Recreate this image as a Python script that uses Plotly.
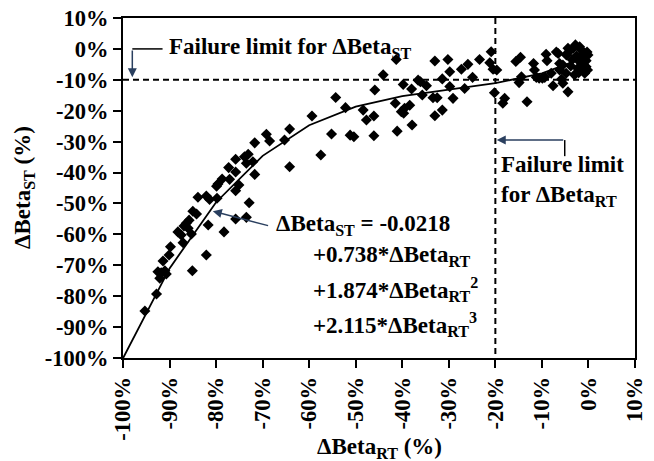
import plotly.graph_objects as go

# Measured points (percent)
x_pct = [
    -85.0, -84.2, -85.8, -86.4, -86.9, -86.0, -88.2, -87.5, -85.3, -87.1, -89.8, -90.1, -91.4,
    -92.5, -91.8, -91.0, -92.1, -90.7, -92.8, -95.3, -81.7, -78.3, -82.1, -85.1, -75.8,
    -69.2, -68.5, -71.7, -73.1, -73.9, -72.1, -73.5, -75.8, -77.3, -75.8, -71.7, -77.1, -78.7,
    -79.6, -79.9, -75.1, -75.8, -79.8, -83.9, -82.1, -81.4, -72.9, -73.5,
    -44.1, -45.9, -54.3, -52.2, -48.4, -46.1, -47.7, -59.4, -64.2, -65.3, -55.2, -51.2, -50.4,
    -46.1, -57.5, -64.2,
    -41.3, -33.0, -30.2, -39.8, -38.0, -36.6, -36.1, -34.8, -35.7, -33.4, -32.5, -31.4, -29.8,
    -41.5, -38.4, -39.5, -40.2, -39.7, -31.4, -33.0, -37.9, -41.1,
    -20.9, -21.2, -20.5, -19.7, -23.4, -25.9, -27.3, -29.8, -24.9, -26.6, -29.1, -20.2,
    -15.6, -14.6, -11.8, -11.6, -9.1, -8.9, -6.9, -6.5, -4.8, -4.4, -14.4, -14.9, -11.2, -10.6,
    -9.9, -9.4, -8.0, -7.6, -6.2, -5.8, -5.5, -4.8, -4.4, -18.0, -18.4, -13.2,
    -4.7, -4.0, -3.3, -2.8, -1.9, -1.5, -1.0, -0.7, -0.5, -1.2, -1.5, -2.3, -0.5, -0.2, -2.1,
    -3.0, -6.2, -5.5, -0.8, -0.1, -2.6, -3.5, -2.0, -0.3, -3.8, -1.8,
]
y_pct = [
    -52.5, -53.4, -55.4, -56.4, -57.3, -58.0, -59.2, -60.2, -59.9, -62.7, -64.0, -66.7, -68.6,
    -72.1, -72.4, -71.8, -74.2, -72.8, -79.3, -84.8, -57.0, -59.2, -66.7, -71.8, -55.0,
    -27.6, -29.8, -30.4, -34.1, -34.9, -36.5, -37.0, -35.7, -38.4, -39.8, -40.6, -42.2, -42.1,
    -43.7, -44.4, -44.0, -45.9, -48.3, -48.0, -47.6, -48.7, -49.8, -54.5,
    -8.4, -13.3, -15.7, -19.0, -19.8, -21.7, -23.0, -21.7, -25.9, -29.5, -27.5, -27.9, -28.4,
    -28.1, -34.3, -38.1,
    -3.4, -3.9, -3.4, -11.5, -13.0, -10.1, -10.6, -11.9, -14.9, -15.8, -15.8, -9.7, -12.2,
    -17.6, -18.2, -19.2, -20.3, -20.8, -19.8, -21.6, -24.6, -26.6,
    -0.9, -4.5, -6.6, -6.8, -3.4, -5.0, -6.6, -7.4, -9.2, -12.8, -16.0, -14.2,
    -4.1, -2.7, -4.7, -6.8, -1.7, -3.8, -1.0, -1.5, -1.8, 0.2, -9.0, -10.9, -9.2, -9.5,
    -9.5, -9.2, -7.9, -11.9, -6.8, -9.8, -11.1, -7.9, -13.9, -16.0, -17.6, -17.1,
    -2.0, -0.6, 0.2, 1.3, 0.7, -0.4, -1.2, -2.5, -3.8, -4.7, -5.8, -6.3, -5.8, -6.8, -7.7,
    -8.4, -4.7, -5.2, -7.9, -2.0, -2.3, -3.5, -4.0, -1.0, -5.5, -2.8,
]

# Fitted curve vertices (fraction)
fit_x = [-1.0, -0.9, -0.8, -0.7, -0.6, -0.5, -0.4, -0.3, -0.2, -0.1, -0.01]
fit_y = [-1.001, -0.710, -0.496, -0.346, -0.247, -0.187, -0.153, -0.132, -0.111, -0.079, -0.029]

limit_rt = [-0.20]
limit_st = [-0.10]

tick_vals = [-1.0, -0.9, -0.8, -0.7, -0.6, -0.5, -0.4, -0.3, -0.2, -0.1, 0.0, 0.1]
tick_text = ["-100%", "-90%", "-80%", "-70%", "-60%", "-50%", "-40%", "-30%", "-20%", "-10%", "0%", "10%"]

FONT = "Liberation Serif, Times New Roman, Tinos, serif"
TXT = dict(family=FONT, size=23, color="black", weight="bold")

fig = go.Figure()
fig.add_trace(go.Scatter(
    x=[v / 100 for v in x_pct], y=[v / 100 for v in y_pct], mode="markers",
    marker=dict(symbol="diamond", size=8.5, color="black"), showlegend=False))
fig.add_trace(go.Scatter(
    x=fit_x, y=fit_y, mode="lines", line=dict(color="black", width=1.8), showlegend=False))

# Failure limit lines
fig.add_shape(type="line", xref="x", yref="y", x0=-1.0, x1=0.1, y0=limit_st[0], y1=limit_st[0],
              line=dict(color="black", width=2, dash="6px,4px"))
fig.add_shape(type="line", xref="x", yref="y", x0=limit_rt[0], x1=limit_rt[0], y0=0.1, y1=-1.0,
              line=dict(color="black", width=2, dash="6px,4px"))

# leader for top annotation
fig.add_shape(type="line", xref="x", yref="y", x0=-0.98, x1=-0.915, y0=0.0, y1=0.0,
              line=dict(color="black", width=1.5))
fig.add_annotation(x=-0.98, y=-0.092, ax=-0.98, ay=0.0, axref="x", ayref="y", xref="x", yref="y",
                   text="", showarrow=True, arrowhead=2, arrowsize=1.2, arrowwidth=1.5)
fig.add_annotation(x=-0.906, y=0.003, xref="x", yref="y", xanchor="left", yanchor="middle",
                   text="Failure limit for ΔBeta<sub>ST</sub>", showarrow=False, font=TXT)

# leader for right annotation
fig.add_shape(type="line", xref="x", yref="y", x0=-0.051, x1=-0.051, y0=-0.295, y1=-0.347,
              line=dict(color="black", width=1.5))
fig.add_annotation(x=-0.197, y=-0.295, ax=-0.051, ay=-0.295, axref="x", ayref="y", xref="x", yref="y",
                   text="", showarrow=True, arrowhead=2, arrowsize=1.2, arrowwidth=1.5)
fig.add_annotation(x=-0.193, y=-0.375, xref="x", yref="y", xanchor="left", yanchor="middle",
                   text="Failure limit", showarrow=False, font=TXT)
fig.add_annotation(x=-0.193, y=-0.476, xref="x", yref="y", xanchor="left", yanchor="middle",
                   text="for ΔBeta<sub>RT</sub>", showarrow=False, font=TXT)

# equation
fig.add_annotation(x=-0.807, y=-0.525, ax=-0.685, ay=-0.573, axref="x", ayref="y", xref="x", yref="y",
                   text="", showarrow=True, arrowhead=2, arrowsize=1.2, arrowwidth=1.5)
eq_lines = ["ΔBeta<sub>ST</sub> = -0.0218",
            "+0.738*ΔBeta<sub>RT</sub>",
            "+1.874*ΔBeta<sub>RT</sub><sup>2</sup>",
            "+2.115*ΔBeta<sub>RT</sub><sup>3</sup>"]
eq_x = [-0.675, -0.597, -0.597, -0.597]
eq_y = [-0.57, -0.67, -0.777, -0.89]
for t, xx, yy in zip(eq_lines, eq_x, eq_y):
    fig.add_annotation(x=xx, y=yy, xref="x", yref="y", xanchor="left", yanchor="middle",
                       text=t, showarrow=False, font=TXT)

# axis titles
fig.add_annotation(x=0.5, y=0, xref="paper", yref="paper", yshift=-90, xanchor="center",
                   yanchor="middle", text="ΔBeta<sub>RT</sub> (%)", showarrow=False, font=TXT)
fig.add_annotation(x=0, y=0.5, xref="paper", yref="paper", xshift=-99, xanchor="center",
                   yanchor="middle", textangle=-90, text="ΔBeta<sub>ST</sub> (%)",
                   showarrow=False, font=TXT)

axis_common = dict(showgrid=False, zeroline=False, showline=True, linecolor="black", linewidth=2,
                   mirror=True, ticks="outside", ticklen=8, tickwidth=2, tickcolor="black",
                   tickmode="array", tickvals=tick_vals, ticktext=tick_text,
                   ticklabeloverflow="allow",
                   tickfont=dict(family=FONT, size=22.5, color="black", weight="bold"),
                   range=[-1.0, 0.1])
fig.update_xaxes(**axis_common, tickangle=-90)
fig.update_yaxes(**axis_common)

# page body has an 8px margin, so the figure is 8px smaller on each axis
fig.update_layout(width=646, height=453, margin=dict(l=115, r=19, t=10, b=103, autoexpand=False),
                  plot_bgcolor="white", paper_bgcolor="white", showlegend=False)

fig.write_html("out.html")
